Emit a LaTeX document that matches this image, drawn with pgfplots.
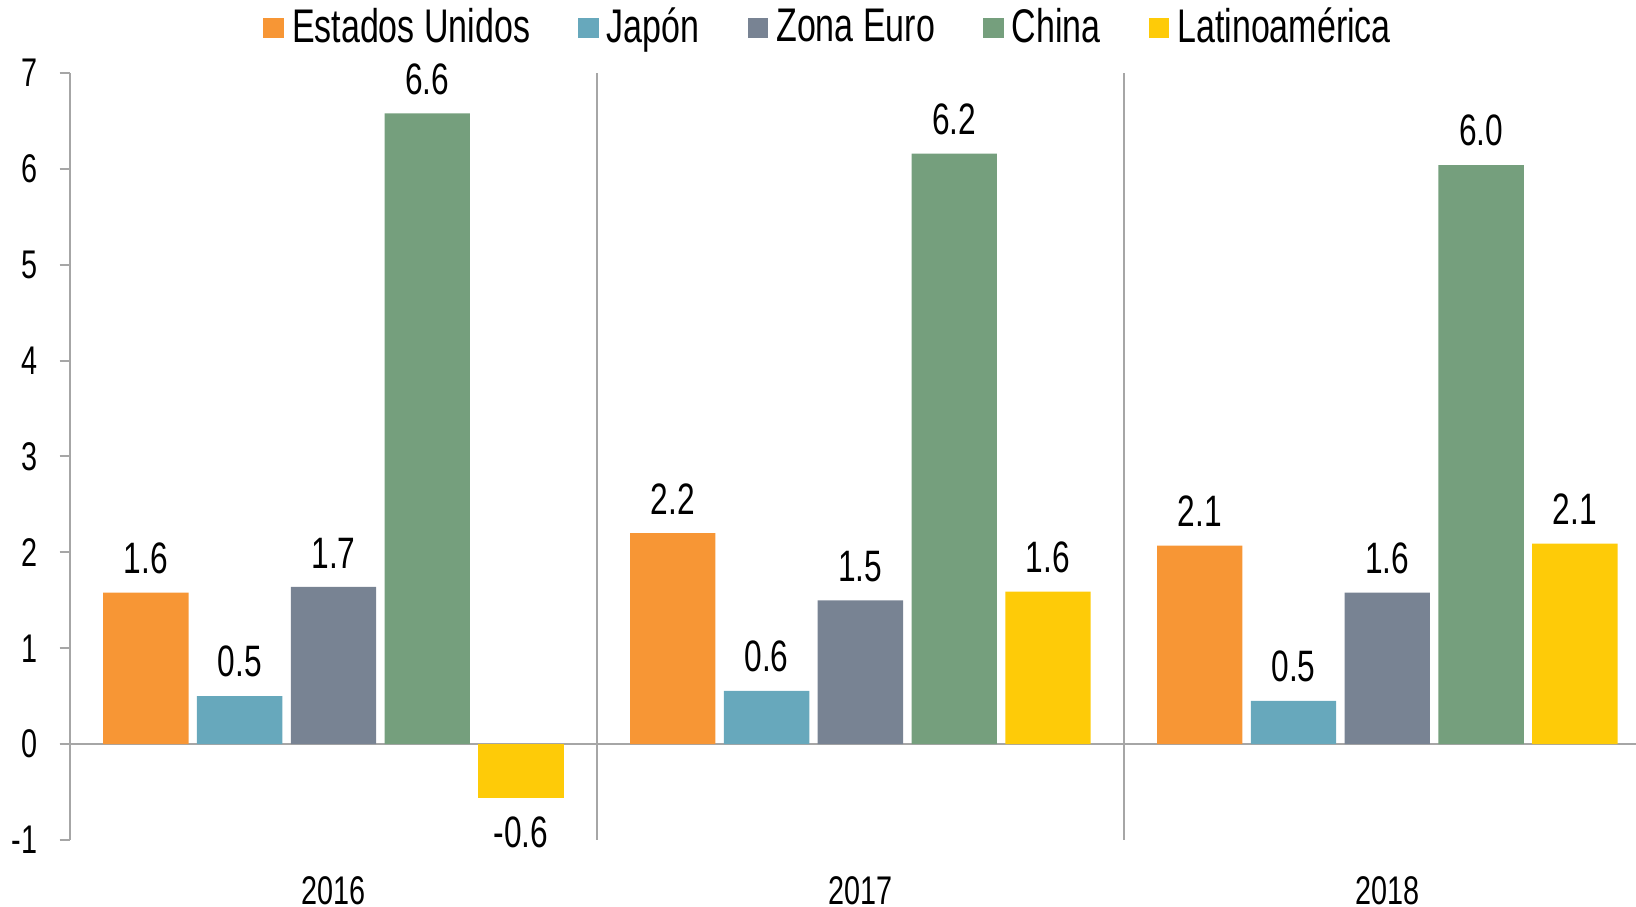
\documentclass[border=0pt]{standalone}
\usepackage{pgfplots}
\pgfplotsset{compat=1.18}
\usepackage{pgfplotstable}
\usepackage{fontspec}
\setmainfont{Liberation Sans}[FakeStretch=0.72]
\definecolor{cUS}{HTML}{F79635}
\definecolor{cJP}{HTML}{67A8BC}
\definecolor{cEU}{HTML}{788393}
\definecolor{cCN}{HTML}{759F7D}
\definecolor{cLA}{HTML}{FECB08}
\definecolor{axgray}{HTML}{A6A6A6}

\pgfplotstableread{
x y lab
0 1.58 1.6
1 2.20 2.2
2 2.07 2.1
}\us
\pgfplotstableread{
x y lab
0 0.50 0.5
1 0.555 0.6
2 0.45 0.5
}\jp
\pgfplotstableread{
x y lab
0 1.64 1.7
1 1.50 1.5
2 1.58 1.6
}\eu
\pgfplotstableread{
x y lab
0 6.58 6.6
1 6.16 6.2
2 6.04 6.0
}\cn
\pgfplotstableread{
x y lab
1 1.59 1.6
2 2.09 2.1
}\la
\pgfplotstableread{
x y lab
0 -0.56 -0.6
}\laneg

\begin{document}
\begin{tikzpicture}
\path[use as bounding box] (0,0) rectangle (409pt,226.75pt);
\begin{axis}[
  at={(17.5pt,16.75pt)}, anchor=south west,
  scale only axis, width=391.5pt, height=191.75pt,
  xmin=-0.5, xmax=2.472, ymin=-1, ymax=7,
  enlargelimits=false,
  ybar,
  axis y line=left, axis x line=bottom,
  y axis line style={draw=axgray, line width=0.5pt, -},
  x axis line style={draw=none, -},
  ytick={-1,0,...,7},
  xtick={0,1,2}, xticklabels={2016,2017,2018},
  xtick style={draw=none},
  ytick style={draw=axgray, line width=0.5pt},
  tick align=outside, major tick length=2.6pt,
  /pgf/number format/assume math mode=true,
  yticklabel style={font=\fontsize{10}{12}\selectfont, xshift=-2pt},
  xticklabel style={font=\fontsize{10}{12}\selectfont, yshift=-3pt},
  extra x ticks={0.5,1.5}, extra x tick labels={},
  extra x tick style={grid=major, major grid style={draw=axgray, line width=0.5pt}, major tick length=0pt},
  extra y ticks={0}, extra y tick labels={},
  extra y tick style={grid=major, major grid style={draw=axgray, line width=0.6pt}},
  nodes near coords, point meta=explicit symbolic,
  every node near coord/.append style={font=\fontsize{11}{13}\selectfont, inner sep=4.5pt, text=black},
  legend style={at={(0.486,1.0587)}, anchor=center, draw=none, fill=none,
    font=\fontsize{11.8}{13}\selectfont, legend columns=-1,
    /tikz/every odd column/.append style={column sep=0pt},
    /tikz/every even column/.append style={column sep=10pt}},
  sq/.style={legend image code/.code={\fill[##1] (0pt,-2.6pt) rectangle (5.2pt,2.6pt);}},
]
\addplot[sq, bar width=0.162, bar shift=-0.356, fill=cUS, draw=none] table[x=x,y=y,meta=lab]{\us};
\addplot[sq, bar width=0.162, bar shift=-0.178, fill=cJP, draw=none] table[x=x,y=y,meta=lab]{\jp};
\addplot[sq, bar width=0.162, bar shift=0, fill=cEU, draw=none] table[x=x,y=y,meta=lab]{\eu};
\addplot[sq, bar width=0.162, bar shift=0.178, fill=cCN, draw=none] table[x=x,y=y,meta=lab]{\cn};
\addplot[sq, bar width=0.162, bar shift=0.356, fill=cLA, draw=none] table[x=x,y=y,meta=lab]{\la};
\addplot[forget plot, bar width=0.162, bar shift=0.356, fill=cLA, draw=none,
  every node near coord/.append style={anchor=north}] table[x=x,y=y,meta=lab]{\laneg};
\legend{Estados Unidos, Japón, Zona Euro, China, Latinoamérica}
\end{axis}
\end{tikzpicture}
\end{document}
